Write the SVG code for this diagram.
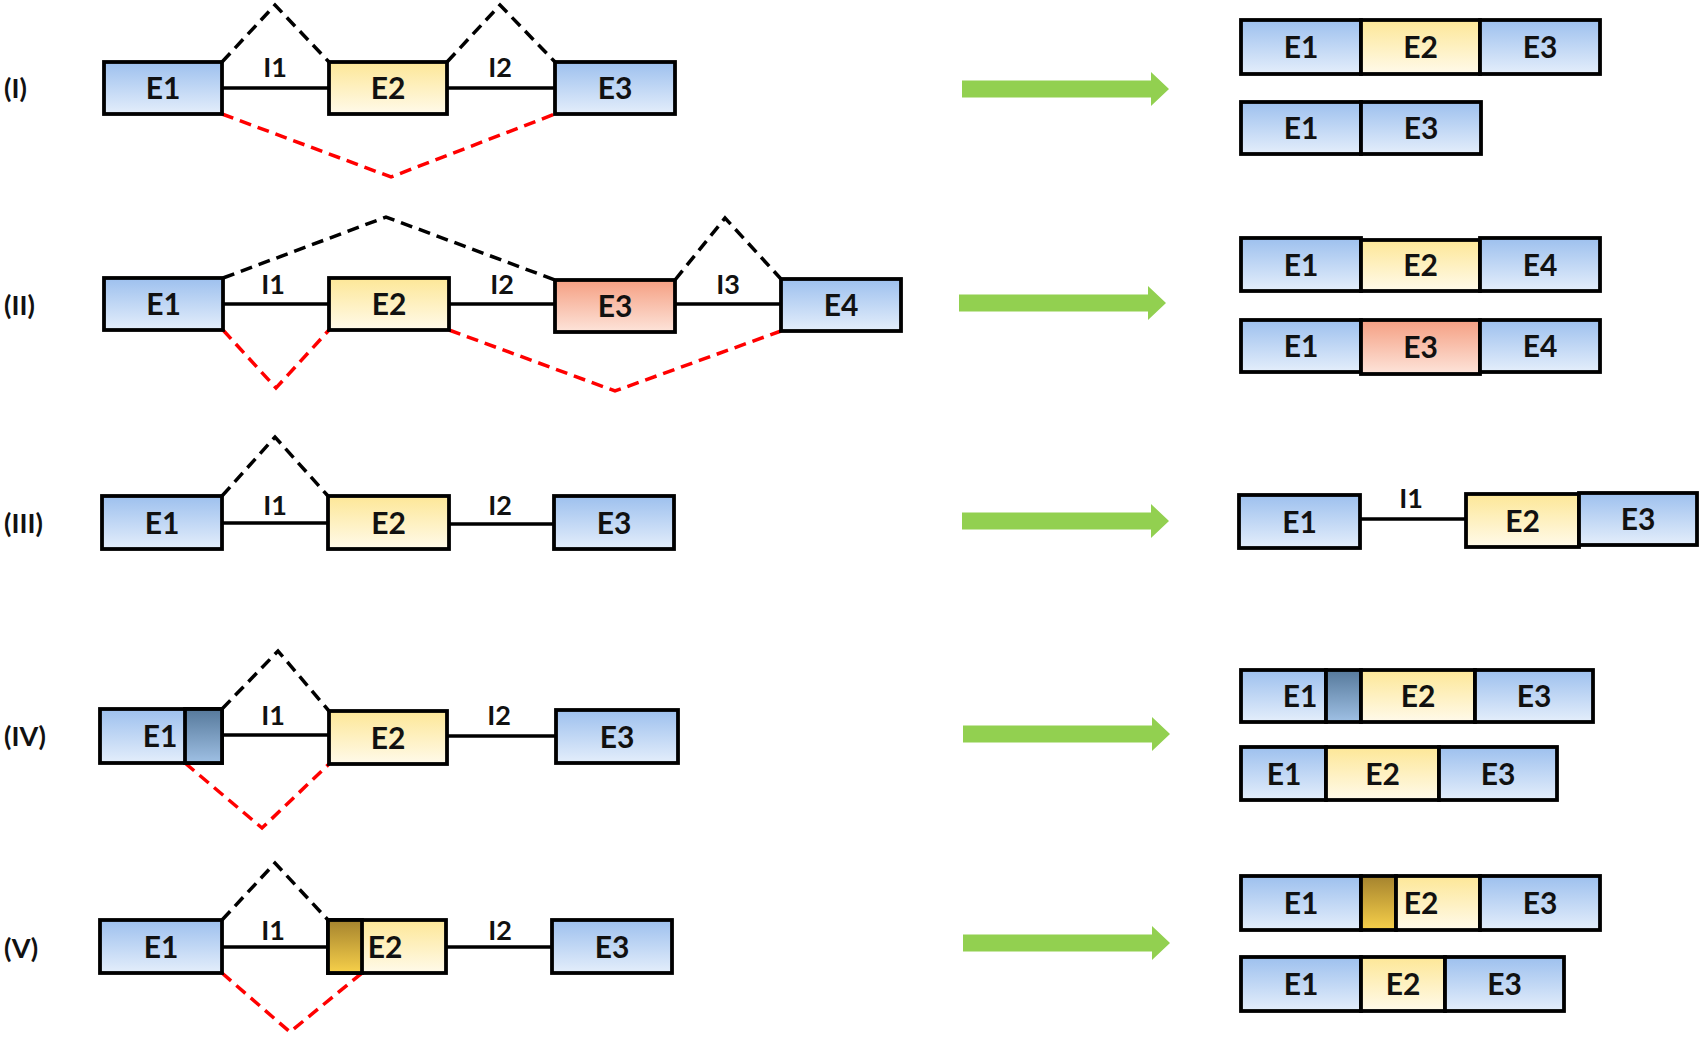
<svg xmlns="http://www.w3.org/2000/svg" width="1701" height="1037" viewBox="0 0 1701 1037">
<style>
.box{stroke:#000;stroke-width:3.8}
.blue{fill:url(#gBlue)}
.yel{fill:url(#gYel)}
.sal{fill:url(#gSal)}
.dark{fill:url(#gDark)}
.gold{fill:url(#gGold)}
.intron{stroke:#000;stroke-width:3.5;fill:none}
.skip{stroke:#000;stroke-width:3.5;stroke-dasharray:12 7;fill:none}
.alt{stroke:#ff0000;stroke-width:3.5;stroke-dasharray:12 7;fill:none}
.arrow{fill:#92d050}
text{font-family:Lato,"Liberation Sans","DejaVu Sans",sans-serif;font-weight:bold;fill:#111}
.lbl{font-size:30px;text-anchor:middle}
.ilbl{font-size:27px;text-anchor:middle}
.rlbl{font-size:27px}
</style>
<defs>
<linearGradient id="gBlue" x1="0" y1="0" x2="0" y2="1"><stop offset="0" stop-color="#9dc0ee"/><stop offset="1" stop-color="#e4eefb"/></linearGradient>
<linearGradient id="gYel" x1="0" y1="0" x2="0" y2="1"><stop offset="0" stop-color="#fde797"/><stop offset="1" stop-color="#fffaea"/></linearGradient>
<linearGradient id="gSal" x1="0" y1="0" x2="0" y2="1"><stop offset="0" stop-color="#f59f82"/><stop offset="1" stop-color="#fde4da"/></linearGradient>
<linearGradient id="gDark" x1="0" y1="0" x2="0" y2="1"><stop offset="0" stop-color="#56799b"/><stop offset="1" stop-color="#9fc0e4"/></linearGradient>
<linearGradient id="gGold" x1="0" y1="0" x2="0" y2="1"><stop offset="0" stop-color="#a5832e"/><stop offset="1" stop-color="#f7d04a"/></linearGradient>
</defs>
<rect width="1701" height="1037" fill="#fff"/>

<!-- Row labels -->
<g id="row-labels">
<text class="rlbl" x="4" y="98">(I)</text>
<text class="rlbl" x="4" y="315">(II)</text>
<text class="rlbl" x="4" y="533">(III)</text>
<text class="rlbl" x="4" y="746">(IV)</text>
<text class="rlbl" x="4" y="958">(V)</text>
</g>

<!-- Connectors -->
<g id="connectors">
<!-- Row I -->
<line class="intron" x1="222" y1="88" x2="329" y2="88"/>
<line class="intron" x1="447" y1="88" x2="555" y2="88"/>
<path class="skip" d="M222,62 L275,5 L329,62"/>
<path class="skip" d="M447,62 L500,5 L555,62"/>
<path class="alt" d="M222,114 L391,177 L555,114"/>
<!-- Row II -->
<line class="intron" x1="223" y1="304" x2="329" y2="304"/>
<line class="intron" x1="449" y1="304" x2="555" y2="304"/>
<line class="intron" x1="675" y1="304" x2="781" y2="304"/>
<path class="skip" d="M223,278 L386,217 L555,280"/>
<path class="skip" d="M675,280 L725,218 L781,279"/>
<path class="alt" d="M223,330 L276,388 L329,330"/>
<path class="alt" d="M449,330 L615,391 L781,331"/>
<!-- Row III -->
<line class="intron" x1="222" y1="523" x2="328" y2="523"/>
<line class="intron" x1="449" y1="524" x2="554" y2="524"/>
<path class="skip" d="M222,496 L275,437 L328,496"/>
<line class="intron" x1="1360" y1="519" x2="1466" y2="519"/>
<!-- Row IV -->
<line class="intron" x1="222" y1="735" x2="329" y2="735"/>
<line class="intron" x1="447" y1="736" x2="556" y2="736"/>
<path class="skip" d="M222,709 L278,651 L329,711"/>
<path class="alt" d="M185,763 L262,828 L329,764"/>
<!-- Row V -->
<line class="intron" x1="222" y1="947" x2="328" y2="947"/>
<line class="intron" x1="446" y1="947" x2="552" y2="947"/>
<path class="skip" d="M222,920 L275,863 L328,920"/>
<path class="alt" d="M222,973 L290,1032 L362,973"/>
<!-- Green arrows -->
<polygon class="arrow" points="962,80.5 1151,80.5 1151,72 1169,89 1151,106 1151,97.5 962,97.5"/>
<polygon class="arrow" points="959,294.5 1148,294.5 1148,286 1166,303 1148,320 1148,311.5 959,311.5"/>
<polygon class="arrow" points="962,512.5 1151,512.5 1151,504 1169,521 1151,538 1151,529.5 962,529.5"/>
<polygon class="arrow" points="963,725.5 1152,725.5 1152,717 1170,734 1152,751 1152,742.5 963,742.5"/>
<polygon class="arrow" points="963,934.5 1152,934.5 1152,926 1170,943 1152,960 1152,951.5 963,951.5"/>
</g>

<!-- Intron labels -->
<g id="intron-labels">
<text class="ilbl" x="275" y="77">I1</text>
<text class="ilbl" x="500" y="77">I2</text>
<text class="ilbl" x="273" y="294">I1</text>
<text class="ilbl" x="502" y="294">I2</text>
<text class="ilbl" x="728" y="294">I3</text>
<text class="ilbl" x="275" y="515">I1</text>
<text class="ilbl" x="500" y="515">I2</text>
<text class="ilbl" x="1411" y="508">I1</text>
<text class="ilbl" x="273" y="725">I1</text>
<text class="ilbl" x="499" y="725">I2</text>
<text class="ilbl" x="273" y="940">I1</text>
<text class="ilbl" x="500" y="940">I2</text>
</g>

<!-- Row I pre-mRNA -->
<g id="r1-E1"><rect class="box blue" x="104" y="62" width="118" height="52"/><text class="lbl" x="163" y="99">E1</text></g>
<g id="r1-E2"><rect class="box yel" x="329" y="62" width="118" height="52"/><text class="lbl" x="388" y="99">E2</text></g>
<g id="r1-E3"><rect class="box blue" x="555" y="62" width="120" height="52"/><text class="lbl" x="615" y="99">E3</text></g>

<!-- Row II pre-mRNA -->
<g id="r2-E1"><rect class="box blue" x="104" y="278" width="119" height="52"/><text class="lbl" x="163.5" y="315">E1</text></g>
<g id="r2-E2"><rect class="box yel" x="329" y="278" width="120" height="52"/><text class="lbl" x="389" y="315">E2</text></g>
<g id="r2-E3"><rect class="box sal" x="555" y="280" width="120" height="52"/><text class="lbl" x="615" y="317">E3</text></g>
<g id="r2-E4"><rect class="box blue" x="781" y="279" width="120" height="52"/><text class="lbl" x="841" y="316">E4</text></g>

<!-- Row III pre-mRNA -->
<g id="r3-E1"><rect class="box blue" x="102" y="496" width="120" height="53"/><text class="lbl" x="162" y="533.5">E1</text></g>
<g id="r3-E2"><rect class="box yel" x="328" y="496" width="121" height="53"/><text class="lbl" x="388.5" y="533.5">E2</text></g>
<g id="r3-E3"><rect class="box blue" x="554" y="496" width="120" height="53"/><text class="lbl" x="614" y="533.5">E3</text></g>

<!-- Row IV pre-mRNA -->
<g id="r4-E1"><rect class="box blue" x="100" y="709" width="122" height="54"/><rect class="box dark" x="185" y="709" width="37" height="54"/><text class="lbl" x="160" y="747">E1</text></g>
<g id="r4-E2"><rect class="box yel" x="329" y="711" width="118" height="53"/><text class="lbl" x="388" y="748.5">E2</text></g>
<g id="r4-E3"><rect class="box blue" x="556" y="710" width="122" height="53"/><text class="lbl" x="617" y="747.5">E3</text></g>

<!-- Row V pre-mRNA -->
<g id="r5-E1"><rect class="box blue" x="100" y="920" width="122" height="53"/><text class="lbl" x="161" y="957.5">E1</text></g>
<g id="r5-E2"><rect class="box yel" x="328" y="920" width="118" height="53"/><rect class="box gold" x="328" y="920" width="34" height="53"/><text class="lbl" x="385" y="957.5">E2</text></g>
<g id="r5-E3"><rect class="box blue" x="552" y="920" width="120" height="53"/><text class="lbl" x="612" y="957.5">E3</text></g>

<!-- Row I mRNAs -->
<g id="r1-m1">
<rect class="box blue" x="1241" y="20" width="120" height="54"/><text class="lbl" x="1301" y="58">E1</text>
<rect class="box yel" x="1361" y="20" width="119" height="54"/><text class="lbl" x="1420.5" y="58">E2</text>
<rect class="box blue" x="1480" y="20" width="120" height="54"/><text class="lbl" x="1540" y="58">E3</text>
</g>
<g id="r1-m2">
<rect class="box blue" x="1241" y="102" width="120" height="52"/><text class="lbl" x="1301" y="139">E1</text>
<rect class="box blue" x="1361" y="102" width="120" height="52"/><text class="lbl" x="1421" y="139">E3</text>
</g>

<!-- Row II mRNAs -->
<g id="r2-m1">
<rect class="box blue" x="1241" y="238" width="120" height="53"/><text class="lbl" x="1301" y="275.5">E1</text>
<rect class="box yel" x="1361" y="240" width="119" height="51"/><text class="lbl" x="1420.5" y="275.5">E2</text>
<rect class="box blue" x="1480" y="238" width="120" height="53"/><text class="lbl" x="1540" y="275.5">E4</text>
</g>
<g id="r2-m2">
<rect class="box blue" x="1241" y="320" width="120" height="52"/><text class="lbl" x="1301" y="357">E1</text>
<rect class="box sal" x="1361" y="320" width="119" height="54"/><text class="lbl" x="1420.5" y="357.5">E3</text>
<rect class="box blue" x="1480" y="320" width="120" height="52"/><text class="lbl" x="1540" y="357">E4</text>
</g>

<!-- Row III mRNA -->
<g id="r3-m1-E1"><rect class="box blue" x="1239" y="495" width="121" height="53"/><text class="lbl" x="1299.5" y="532.5">E1</text></g>
<g id="r3-m1-E2E3">
<rect class="box yel" x="1466" y="494" width="113" height="53"/><text class="lbl" x="1522.5" y="531.5">E2</text>
<rect class="box blue" x="1579" y="493" width="118" height="52"/><text class="lbl" x="1638" y="530">E3</text>
</g>

<!-- Row IV mRNAs -->
<g id="r4-m1">
<rect class="box blue" x="1241" y="670" width="85" height="52"/><text class="lbl" x="1300" y="707">E1</text>
<rect class="box dark" x="1326" y="670" width="35" height="52"/>
<rect class="box yel" x="1361" y="670" width="114" height="52"/><text class="lbl" x="1418" y="707">E2</text>
<rect class="box blue" x="1475" y="670" width="118" height="52"/><text class="lbl" x="1534" y="707">E3</text>
</g>
<g id="r4-m2">
<rect class="box blue" x="1241" y="747" width="85" height="53"/><text class="lbl" x="1284" y="784.5">E1</text>
<rect class="box yel" x="1326" y="747" width="113" height="53"/><text class="lbl" x="1382.5" y="784.5">E2</text>
<rect class="box blue" x="1439" y="747" width="118" height="53"/><text class="lbl" x="1498" y="784.5">E3</text>
</g>

<!-- Row V mRNAs -->
<g id="r5-m1">
<rect class="box blue" x="1241" y="876" width="120" height="54"/><text class="lbl" x="1301" y="914">E1</text>
<rect class="box gold" x="1361" y="876" width="35" height="54"/>
<rect class="box yel" x="1396" y="876" width="84" height="54"/><text class="lbl" x="1421" y="914">E2</text>
<rect class="box blue" x="1480" y="876" width="120" height="54"/><text class="lbl" x="1540" y="914">E3</text>
</g>
<g id="r5-m2">
<rect class="box blue" x="1241" y="957" width="120" height="54"/><text class="lbl" x="1301" y="995">E1</text>
<rect class="box yel" x="1361" y="957" width="84" height="54"/><text class="lbl" x="1403" y="995">E2</text>
<rect class="box blue" x="1445" y="957" width="119" height="54"/><text class="lbl" x="1504.5" y="995">E3</text>
</g>
</svg>
